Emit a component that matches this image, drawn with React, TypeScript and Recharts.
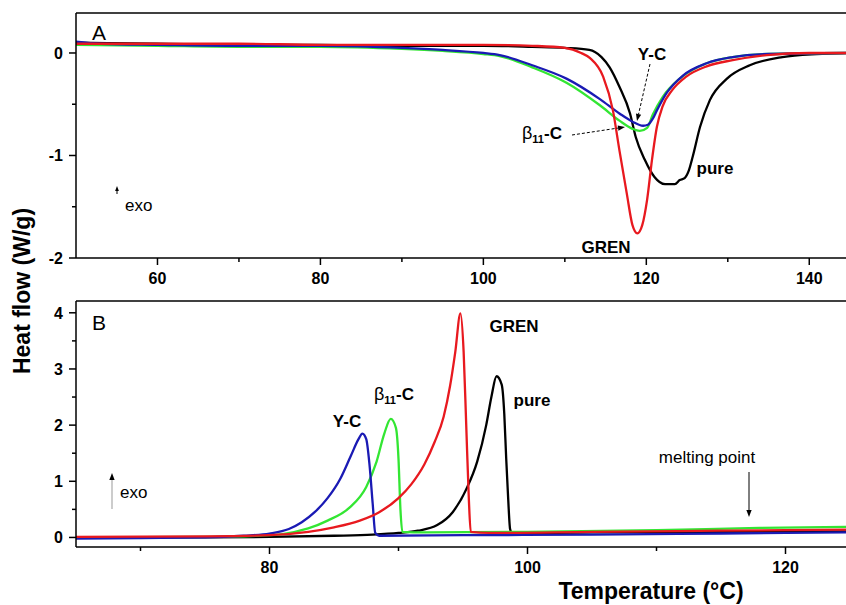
import React from "react";
import { LineChart, Line, XAxis, YAxis, ReferenceLine } from "recharts";

// panel A (heating)
const aPureT = [50, 60, 70, 80, 90, 100, 106, 110, 113, 114.5, 115.5, 116.7, 118, 118.7, 119.8, 121, 122.3, 123.5, 124.1, 124.7, 125.2, 125.7, 126.6, 127.8, 129.9, 132.7, 136.7, 140.9, 145];
const aPureV = [0.1, 0.09, 0.08, 0.08, 0.07, 0.07, 0.06, 0.05, 0.03, -0.04, -0.14, -0.33, -0.59, -0.82, -1.04, -1.21, -1.28, -1.28, -1.24, -1.22, -1.15, -1.01, -0.72, -0.46, -0.25, -0.12, -0.04, -0.01, 0];
const aGrenT = [50, 60, 70, 80, 90, 100, 106, 110, 112, 113.1, 114.7, 115.9, 116.7, 117.6, 118.3, 118.9, 119.5, 120.1, 120.7, 121.3, 122, 123.2, 124.9, 127.4, 130.6, 134.8, 140, 145];
const aGrenV = [0.09, 0.09, 0.09, 0.08, 0.08, 0.08, 0.07, 0.05, 0, -0.05, -0.23, -0.56, -0.95, -1.37, -1.68, -1.76, -1.68, -1.43, -1.04, -0.72, -0.52, -0.36, -0.23, -0.13, -0.07, -0.02, 0, 0];
const aYcT = [50, 53, 60, 70, 80, 90, 95, 100, 102, 106, 110.2, 114.3, 116.7, 118.3, 119.6, 120.2, 120.8, 121.3, 122.5, 124.5, 127.4, 130.6, 135, 145];
const aYcV = [0.11, 0.09, 0.08, 0.07, 0.07, 0.05, 0.03, 0, -0.02, -0.12, -0.25, -0.45, -0.59, -0.67, -0.71, -0.7, -0.64, -0.56, -0.39, -0.22, -0.1, -0.04, -0.01, 0];
const aBetaT = [50, 60, 70, 80, 90, 95, 100, 102, 106, 110.2, 114.3, 116.7, 118.3, 119.2, 120.1, 120.8, 122, 124.1, 127.4, 130.6, 135, 145];
const aBetaV = [0.08, 0.07, 0.06, 0.06, 0.04, 0.02, -0.01, -0.03, -0.14, -0.29, -0.51, -0.66, -0.74, -0.76, -0.73, -0.6, -0.43, -0.25, -0.1, -0.04, -0.01, 0];

// panel B (cooling)
const bYcT = [65, 70, 75, 78, 80, 81.5, 82.5, 83.5, 84.5, 85.5, 86.3, 86.9, 87.2, 87.5, 87.75, 88, 88.2, 88.5, 95, 105, 115, 125];
const bYcV = [-0.02, -0.01, 0, 0.03, 0.07, 0.15, 0.27, 0.45, 0.7, 1.05, 1.45, 1.75, 1.85, 1.75, 1.3, 0.6, 0.08, 0.03, 0.04, 0.05, 0.07, 0.09];
const bBetaT = [65, 75, 80, 81, 83, 84.5, 86.2, 87.5, 88.3, 88.9, 89.4, 89.8, 90, 90.15, 90.3, 92, 100, 110, 118, 125];
const bBetaV = [0, 0.01, 0.04, 0.06, 0.16, 0.3, 0.53, 0.9, 1.35, 1.85, 2.11, 1.95, 1.4, 0.5, 0.1, 0.09, 0.1, 0.13, 0.17, 0.19];
const bGrenT = [65, 75, 80, 83, 85, 87, 88.5, 90, 91, 92, 92.8, 93.5, 94, 94.4, 94.8, 95.05, 95.25, 95.45, 95.6, 97, 105, 115, 125];
const bGrenV = [0.01, 0.02, 0.04, 0.1, 0.18, 0.3, 0.45, 0.7, 0.95, 1.3, 1.7, 2.15, 2.7, 3.3, 3.99, 3.3, 2.0, 0.7, 0.1, 0.08, 0.1, 0.12, 0.14];
const bPureT = [65, 75, 80, 85, 88, 90, 91.5, 93, 94.2, 95.3, 96.1, 96.8, 97.2, 97.6, 98, 98.2, 98.35, 98.5, 98.65, 98.8, 105, 115, 125];
const bPureV = [0, 0, 0.01, 0.03, 0.05, 0.08, 0.12, 0.22, 0.45, 0.88, 1.35, 2.0, 2.5, 2.87, 2.72, 2.2, 1.4, 0.7, 0.15, 0.07, 0.09, 0.1, 0.11];

const aXTicks = [60, 70, 80, 90, 100, 110, 120, 130, 140];
const aYTicks = [-2, -1.5, -1, -0.5, 0];
const bXTicks = [70, 80, 90, 100, 110, 120];
const bYTicks = [0, 0.5, 1, 1.5, 2, 2.5, 3, 3.5, 4];

const FONT = "Arial, 'Liberation Sans', Helvetica, sans-serif";
const RED = "#e8191f";
const GREEN = "#33e633";
const BLUE = "#1a1ab4";
const BLACK = "#000000";

const zip = (t: number[], v: number[]) => t.map((x, i) => ({ t: x, v: v[i] }));

const PLOT_LEFT = 76;
const PLOT_H_A = 245;
const PLOT_H_B = 246;
const TOP = 13;

const xTick = (axisY: number) => (props: any) => {
  const { x, payload } = props;
  const major = payload.value % 20 === 0;
  return (
    <g>
      <line x1={x} x2={x} y1={axisY} y2={axisY + (major ? 7 : 4)} stroke="#000" strokeWidth={1.5} />
      {major && (
        <text x={x} y={axisY + 26} textAnchor="middle" fontFamily={FONT} fontWeight="bold" fontSize={16} fill="#000">
          {payload.value}
        </text>
      )}
    </g>
  );
};

const yTick = (props: any) => {
  const { y, payload } = props;
  const major = Number.isInteger(payload.value);
  return (
    <g>
      <line x1={PLOT_LEFT - (major ? 7 : 4)} x2={PLOT_LEFT} y1={y} y2={y} stroke="#000" strokeWidth={1.5} />
      {major && (
        <text x={63} y={y + 6} textAnchor="end" fontFamily={FONT} fontWeight="bold" fontSize={16} fill="#000">
          {payload.value}
        </text>
      )}
    </g>
  );
};

function Arrow({ x1, y1, x2, y2, dashed = false, color = "#000", head = 7 }: any) {
  const dx = x2 - x1;
  const dy = y2 - y1;
  const len = Math.sqrt(dx * dx + dy * dy);
  const ux = dx / len;
  const uy = dy / len;
  const bx = x2 - ux * head;
  const by = y2 - uy * head;
  const w = head * 0.38;
  const pts = `${x2},${y2} ${bx - uy * w},${by + ux * w} ${bx + uy * w},${by - ux * w}`;
  return (
    <g>
      <line x1={x1} y1={y1} x2={bx} y2={by} stroke={color} strokeWidth={1} strokeDasharray={dashed ? "3 2" : undefined} />
      <polygon points={pts} fill="#000" />
    </g>
  );
}

function Beta({ x, y }: { x: number; y: number }) {
  return (
    <text x={x} y={y} fontFamily={FONT} fontSize={18} fill="#000">
      β
      <tspan fontWeight="bold" fontSize={11} dy={4}>11</tspan>
      <tspan fontWeight="bold" fontSize={17} dy={-4}>-C</tspan>
    </text>
  );
}

const lbl = { fontFamily: FONT, fontWeight: "bold" as const, fontSize: 17, fill: "#000" };
const reg = { fontFamily: FONT, fontSize: 17, fill: "#000" };

export default function App() {
  return (
    <div style={{ position: "fixed", left: 0, top: 0, width: 846, height: 605, overflow: "hidden", background: "#fff" }}>
      <div style={{ position: "absolute", left: 0, top: 0 }}>
        <LineChart width={860} height={TOP + PLOT_H_A + 42} margin={{ top: TOP, right: 10, bottom: 0, left: 0 }}>
          <XAxis
            type="number"
            dataKey="t"
            domain={[50, 145]}
            ticks={aXTicks}
            allowDataOverflow
            height={42}
            axisLine={{ stroke: "#000", strokeWidth: 1.5 }}
            tickLine={false}
            tick={xTick(TOP + PLOT_H_A)}
            interval={0}
          />
          <YAxis
            type="number"
            domain={[-2, 0.39]}
            ticks={aYTicks}
            allowDataOverflow
            width={PLOT_LEFT}
            axisLine={{ stroke: "#000", strokeWidth: 1.5 }}
            tickLine={false}
            tick={yTick}
            interval={0}
          />
          <ReferenceLine y={0.39} stroke="#000" strokeWidth={1.5} />
          <ReferenceLine x={145} stroke="#000" strokeWidth={1.5} />
          <Line data={zip(aPureT, aPureV)} dataKey="v" type="monotone" stroke={BLACK} strokeWidth={2.3} dot={false} isAnimationActive={false} />
          <Line data={zip(aBetaT, aBetaV)} dataKey="v" type="monotone" stroke={GREEN} strokeWidth={2.3} dot={false} isAnimationActive={false} />
          <Line data={zip(aYcT, aYcV)} dataKey="v" type="monotone" stroke={BLUE} strokeWidth={2.3} dot={false} isAnimationActive={false} />
          <Line data={zip(aGrenT, aGrenV)} dataKey="v" type="monotone" stroke={RED} strokeWidth={2.3} dot={false} isAnimationActive={false} />
        </LineChart>
      </div>
      <div style={{ position: "absolute", left: 0, top: 288 }}>
        <LineChart width={860} height={TOP + PLOT_H_B + 40} margin={{ top: TOP, right: 10, bottom: 0, left: 0 }}>
          <XAxis
            type="number"
            dataKey="t"
            domain={[65, 125]}
            ticks={bXTicks}
            allowDataOverflow
            height={40}
            axisLine={{ stroke: "#000", strokeWidth: 1.5 }}
            tickLine={false}
            tick={xTick(TOP + PLOT_H_B)}
            interval={0}
          />
          <YAxis
            type="number"
            domain={[-0.17, 4.21]}
            ticks={bYTicks}
            allowDataOverflow
            width={PLOT_LEFT}
            axisLine={{ stroke: "#000", strokeWidth: 1.5 }}
            tickLine={false}
            tick={yTick}
            interval={0}
          />
          <ReferenceLine y={4.21} stroke="#000" strokeWidth={1.5} />
          <ReferenceLine x={125} stroke="#000" strokeWidth={1.5} />
          <Line data={zip(bPureT, bPureV)} dataKey="v" type="monotone" stroke={BLACK} strokeWidth={2.3} dot={false} isAnimationActive={false} />
          <Line data={zip(bBetaT, bBetaV)} dataKey="v" type="monotone" stroke={GREEN} strokeWidth={2.3} dot={false} isAnimationActive={false} />
          <Line data={zip(bYcT, bYcV)} dataKey="v" type="monotone" stroke={BLUE} strokeWidth={2.3} dot={false} isAnimationActive={false} />
          <Line data={zip(bGrenT, bGrenV)} dataKey="v" type="monotone" stroke={RED} strokeWidth={2.3} dot={false} isAnimationActive={false} />
        </LineChart>
      </div>
      <svg width={846} height={605} style={{ position: "absolute", left: 0, top: 0, pointerEvents: "none" }}>
        {/* axis titles */}
        <text x={22} y={291} transform="rotate(-90 22 291)" textAnchor="middle" dominantBaseline="central" fontFamily={FONT} fontWeight="bold" fontSize={23}>
          Heat flow (W/g)
        </text>
        <text x={651} y={599} textAnchor="middle" fontFamily={FONT} fontWeight="bold" fontSize={23}>
          Temperature (°C)
        </text>

        {/* panel A */}
        <text x={92} y={40} fontFamily={FONT} fontSize={21}>A</text>
        <text x={652} y={60} textAnchor="middle" {...lbl}>Y-C</text>
        <Arrow x1={650} y1={64} x2={637} y2={121} dashed />
        <Beta x={522} y={139} />
        <Arrow x1={572} y1={135} x2={625} y2={127} dashed />
        <text x={715} y={174} textAnchor="middle" {...lbl}>pure</text>
        <text x={606} y={253} textAnchor="middle" {...lbl}>GREN</text>
        <Arrow x1={117} y1={194} x2={117} y2={186} head={5} />
        <text x={125} y={211} {...reg}>exo</text>

        {/* panel B */}
        <text x={92} y={330} fontFamily={FONT} fontSize={21}>B</text>
        <text x={347} y={427} textAnchor="middle" {...lbl}>Y-C</text>
        <Beta x={374} y={400} />
        <text x={514} y={332} textAnchor="middle" {...lbl}>GREN</text>
        <text x={532} y={406} textAnchor="middle" {...lbl}>pure</text>
        <Arrow x1={112} y1={509} x2={112} y2={473} color="#999" />
        <text x={120} y={498} {...reg}>exo</text>
        <text x={707} y={463} textAnchor="middle" {...reg}>melting point</text>
        <Arrow x1={749} y1={472} x2={749} y2={517} />
      </svg>
    </div>
  );
}
